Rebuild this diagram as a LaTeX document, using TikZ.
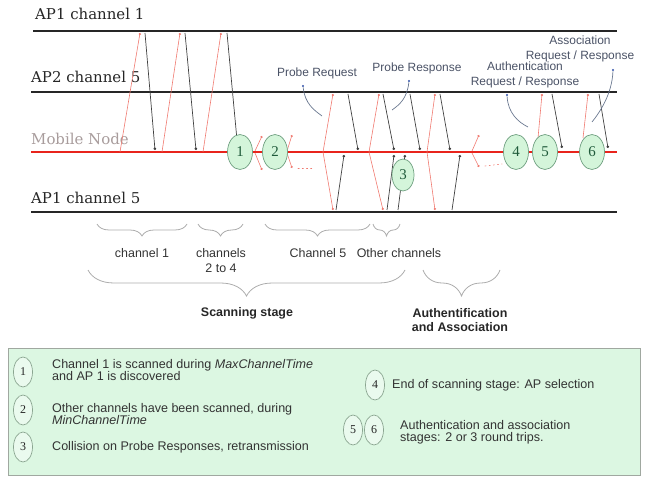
\documentclass[tikz,border=0pt]{standalone}
\usepackage{fontspec}
\setmainfont{Liberation Sans}
\newfontfamily\lineserif{DejaVu Serif}
\newfontfamily\numserif{Liberation Serif}
\usetikzlibrary{decorations.pathreplacing,arrows.meta,shapes.geometric}
\definecolor{reqred}{HTML}{F07A70}
\definecolor{mobred}{HTML}{E8241C}
\definecolor{circfill}{HTML}{D4F5DA}
\definecolor{circedge}{HTML}{6F9F80}
\definecolor{numcol}{HTML}{1F5A3A}
\definecolor{callcol}{HTML}{6A7890}
\definecolor{calltext}{HTML}{4A5266}
\definecolor{dotblue}{HTML}{3050A8}
\definecolor{legfill}{HTML}{DCF7E2}
\definecolor{legedge}{HTML}{A0A8A0}
\definecolor{legcirc}{HTML}{8AA590}
\definecolor{mobtext}{HTML}{A89C9C}
\begin{document}
\begin{tikzpicture}[x=1bp,y=-1bp,
  apline/.style={line width=2.3bp, draw=black!85},
  mobline/.style={line width=2bp, draw=mobred},
  linelabel/.style={anchor=west, inner sep=0pt, font=\lineserif\fontsize{15}{17}\selectfont, text=black!85},
  req/.style={draw=reqred, line width=0.6bp, -{Circle[length=2.2bp]}},
  resp/.style={draw=black!75, line width=0.7bp, -{Circle[length=2.6bp]}},
  stage/.style={ellipse, draw=circedge, fill=circfill, line width=0.7bp, minimum width=25bp, minimum height=35bp, inner sep=0pt, font=\numserif\fontsize{15}{15}\selectfont, text=numcol},
  legstage/.style={ellipse, draw=legcirc, fill=legfill!60!white, line width=0.7bp, minimum width=19bp, minimum height=30bp, inner sep=0pt, font=\numserif\fontsize{12}{12}\selectfont, text=black!85},
  calllabel/.style={align=center, inner sep=0pt, font=\fontsize{12}{14.5}\selectfont, text=calltext},
  callout/.style={draw=callcol, line width=0.7bp},
  calldot/.style={circle, fill=dotblue, inner sep=0pt, minimum size=2.4bp},
  bracesm/.style={draw=gray!65, line width=0.8bp, decorate, decoration={brace, mirror, amplitude=12bp}},
  bracebig/.style={draw=gray!65, line width=0.8bp, decorate, decoration={brace, mirror, amplitude=26bp}},
  bracelabel/.style={align=center, inner sep=0pt, font=\fontsize{12.5}{15}\selectfont, text=black!80},
  stagelabel/.style={align=center, inner sep=0pt, font=\bfseries\fontsize{12.5}{14.5}\selectfont, text=black!85},
  legtext/.style={anchor=west, align=left, inner sep=0pt, font=\fontsize{12.6}{12.5}\selectfont, text=black!80},
  dots/.style={draw=reqred, line width=0.6bp, dash pattern=on 1.2bp off 3bp, line cap=round}
]
\useasboundingbox (0,0) rectangle (651,479);

% horizontal lines
\coordinate (ap1a) at (33,31);  \coordinate (ap1b) at (617,31);
\coordinate (ap2a) at (31,92);  \coordinate (ap2b) at (617,92);
\coordinate (mna)  at (31,152); \coordinate (mnb)  at (617,152);
\coordinate (ap5a) at (31,212); \coordinate (ap5b) at (617,212);
\draw[apline] (ap1a) -- (ap1b);
\draw[apline] (ap2a) -- (ap2b);
\draw[apline] (ap5a) -- (ap5b);
\draw[mobline] (mna) -- (mnb);

\node[linelabel] (lab1) at (35,14) {AP1 channel 1};
\node[linelabel] (lab2) at (31,77) {AP2 channel 5};
\node[linelabel, text=mobtext] (lab3) at (31,139) {Mobile Node};
\node[linelabel] (lab4) at (31,198) {AP1 channel 5};

% channel 1 exchanges
\draw[req]  (120,152) -- (140,33);
\draw[resp] (145,33) -- (155,150);
\draw[req]  (162,152) -- (180,33);
\draw[resp] (185,33) -- (196,150);
\draw[req]  (203,152) -- (221,33);
\draw[resp] (227,33) -- (237,140);

% channel 5 exchanges
\draw[req]  (323,152) -- (333,94);
\draw[req]  (323,152) -- (333,210);
\draw[resp] (348,94) -- (358,150);
\draw[resp] (336,210) -- (344,155);
\draw[req]  (369,152) -- (379,94);
\draw[req]  (369,152) -- (383,210);
\draw[resp] (383,94) -- (394,150);
\draw[resp] (387,210) -- (394,155);
\draw[resp] (398,210) -- (405,155);
\draw[resp] (410,94) -- (420,150);
\draw[req]  (427,152) -- (435,94);
\draw[req]  (427,152) -- (435,210);
\draw[resp] (440,94) -- (450,150);
\draw[resp] (452,210) -- (460,155);

% other channels (probes without answer)
\draw[req] (255,151) -- (262,136);
\draw[req] (255,153) -- (262,170);
\draw[req] (287,151) -- (292,135);
\draw[req] (287,153) -- (292,168);
\draw[dots] (298,168) -- (312,168);
\draw[req] (472,151) -- (479,135);
\draw[req] (472,153) -- (479,167);
\draw[dots] (485,166) -- (502,164);

% authentication / association
\draw[req]  (538,138) -- (542,94);
\draw[resp] (552,94) -- (562,148);
\draw[req]  (583,138) -- (588,94);
\draw[resp] (599,94) -- (608,148);

% stage circles
\node[stage] (c1) at (240,152) {1};
\node[stage] (c2) at (275,152) {2};
\node[stage, minimum width=22bp, minimum height=32bp] (c3) at (403,175) {3};
\node[stage] (c4) at (516,152) {4};
\node[stage] (c5) at (545,152) {5};
\node[stage] (c6) at (592,152) {6};

% callouts
\node[calllabel] (prq) at (317,73) {Probe Request};
\node[calldot] (prqd) at (303,86) {};
\draw[callout] (prqd) .. controls (305,104) and (314,110) .. (322,116);

\node[calllabel] (prs) at (417,68) {Probe Response};
\node[calldot] (prsd) at (409,81) {};
\draw[callout] (prsd) .. controls (407,99) and (399,105) .. (392,110);

\node[calllabel] (auth) at (525,75) {Authentication\\Request / Response};
\node[calldot] (authd) at (507,95) {};
\draw[callout] (authd) .. controls (508,113) and (518,122) .. (528,127);

\node[calllabel] (assoc) at (580,49) {Association\\Request / Response};
\node[calldot] (assocd) at (613,70) {};
\draw[callout] (assocd) .. controls (612,94) and (600,112) .. (592,122);

% braces
\draw[bracesm] (97,224) -- (187,224);
\node[bracelabel] (b1) at (142,253) {channel 1};
\draw[bracesm] (198,224) -- (243,224);
\node[bracelabel] (b2) at (221,261) {channels\\2 to 4};
\draw[bracesm] (265,224) -- (370,224);
\node[bracelabel] (b3) at (318,253) {Channel 5};
\draw[bracesm] (373,224) -- (400,224);
\node[bracelabel] (b4) at (399,253) {Other channels};
\draw[bracebig] (88,270) -- (405,270);
\node[stagelabel] (s1) at (247,313) {Scanning stage};
\draw[bracebig] (423,270) -- (500,270);
\node[stagelabel] (s2) at (460,320) {Authentification\\and Association};

% legend
\node[draw=legedge, fill=legfill, line width=0.8bp, minimum width=632bp, minimum height=127bp, inner sep=0pt, anchor=north west] (leg) at (8,348) {};
\node[legstage] (l1) at (23,372) {1};
\node[legtext] (t1) at (52,370) {Channel 1 is scanned during \textit{MaxChannelTime}\\and AP 1 is discovered};
\node[legstage] (l2) at (23,410) {2};
\node[legtext] (t2) at (52,414) {Other channels have been scanned, during\\\textit{MinChannelTime}};
\node[legstage] (l3) at (23,447) {3};
\node[legtext] (t3) at (52,447) {Collision on Probe Responses, retransmission};
\node[legstage] (l4) at (375,385) {4};
\node[legtext] (t4) at (392,385) {End of scanning stage: AP selection};
\node[legstage] (l5) at (353,430) {5};
\node[legstage] (l6) at (374,430) {6};
\node[legtext] (t5) at (400,432) {Authentication and association\\stages: 2 or 3 round trips.};
\end{tikzpicture}
\end{document}
